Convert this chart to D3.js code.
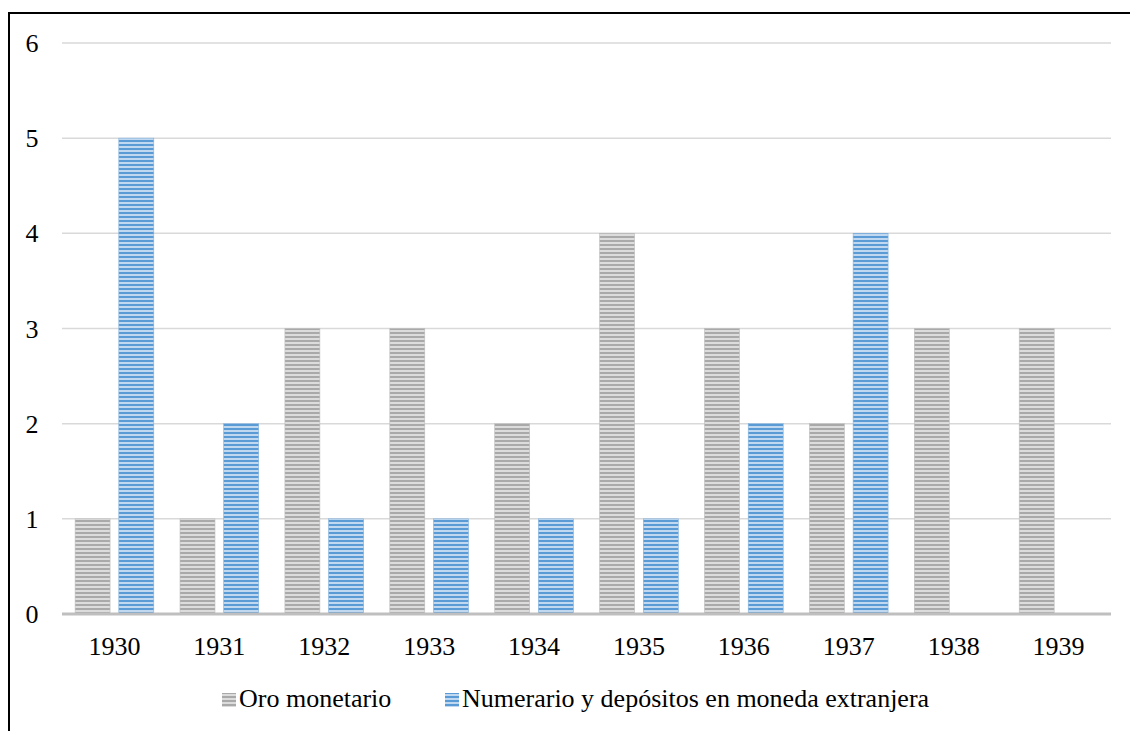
<!DOCTYPE html>
<html>
<head>
<meta charset="utf-8">
<script src="https://cdn.jsdelivr.net/npm/d3@7"></script>
</head>
<body style="margin:0; background:#fff">
<svg id="chart" width="1130" height="731" style="display:block"></svg>
<script>
// data
var years = ['1930','1931','1932','1933','1934','1935','1936','1937','1938','1939'];
var oro = [1, 1, 3, 3, 2, 4, 3, 2, 3, 3];
var numerario = [5, 2, 1, 1, 1, 1, 2, 4, 0, 0];
var yTicks = [0, 1, 2, 3, 4, 5, 6];
var seriesNames = ['Oro monetario', 'Numerario y depósitos en moneda extranjera'];

var FONT = 'Liberation Serif';
var svg = d3.select('#chart');
var margin = {left: 62, right: 19, top: 43, bottom: 117};
var W = 1130, H = 731;

// outer frame (only top/left fall inside the picture)
svg.append('rect')
    .attr('x', 9).attr('y', 13)
    .attr('width', 1140).attr('height', 740)
    .attr('fill', 'none').attr('stroke', '#000').attr('stroke-width', 2);

// striped patterns
var defs = svg.append('defs');
function stripes(id, dark, light){
    var p = defs.append('pattern')
        .attr('id', id)
        .attr('patternUnits', 'userSpaceOnUse')
        .attr('width', 8).attr('height', 4);
    p.append('rect').attr('width', 8).attr('height', 4).attr('fill', light);
    p.append('rect').attr('width', 8).attr('height', 2).attr('fill', dark);
}
stripes('grayStripe', '#a9a9a9', '#dcdcdc');
stripes('blueStripe', '#5b9bd5', '#c0d9f0');

var x = d3.scaleBand()
    .domain(years)
    .range([margin.left, W - margin.right])
    .paddingInner(0.25).paddingOuter(0.125);
var x1 = d3.scaleBand()
    .domain([0, 1])
    .range([0, x.bandwidth()])
    .paddingInner(0.2);
var y = d3.scaleLinear()
    .domain([0, 6])
    .range([H - margin.bottom, margin.top]);

// gridlines
svg.append('g')
    .selectAll('line')
    .data(yTicks.filter(function(d){ return d > 0; }))
    .enter().append('line')
    .attr('x1', margin.left).attr('x2', W - margin.right)
    .attr('y1', function(d){ return y(d); })
    .attr('y2', function(d){ return y(d); })
    .attr('stroke', '#d9d9d9').attr('stroke-width', 1.5);

// y labels
svg.append('g')
    .selectAll('text')
    .data(yTicks)
    .enter().append('text')
    .attr('x', 32)
    .attr('y', function(d){ return y(d); })
    .attr('dy', '0.35em')
    .attr('text-anchor', 'middle')
    .attr('font-family', FONT)
    .attr('font-size', 26)
    .text(function(d){ return d; });

// bars
var fills = ['url(#grayStripe)', 'url(#blueStripe)'];
var strokes = ['#bdbdbd', '#7fb0de'];
var groups = svg.append('g')
    .selectAll('g')
    .data(years)
    .enter().append('g')
    .attr('transform', function(d){ return 'translate(' + x(d) + ',0)'; });

groups.each(function(d, i){
    var self = d3.select(this);
    [oro[i], numerario[i]].forEach(function(v, s){
        if (v <= 0) return;
        self.append('rect')
            .attr('x', x1(s))
            .attr('y', y(v))
            .attr('width', x1.bandwidth())
            .attr('height', y(0) - y(v))
            .attr('fill', fills[s])
            .attr('stroke', strokes[s])
            .attr('stroke-width', 0.6);
    });
});

// x axis line
svg.append('line')
    .attr('x1', margin.left).attr('x2', W - margin.right)
    .attr('y1', y(0)).attr('y2', y(0))
    .attr('stroke', '#bfbfbf').attr('stroke-width', 3);

// x labels
svg.append('g')
    .selectAll('text')
    .data(years)
    .enter().append('text')
    .attr('x', function(d){ return x(d) + x.bandwidth() / 2; })
    .attr('y', 655)
    .attr('text-anchor', 'middle')
    .attr('font-family', FONT)
    .attr('font-size', 26)
    .text(function(d){ return d; });

// legend
var legendX = [222, 445];
var legend = svg.append('g');
seriesNames.forEach(function(name, s){
    legend.append('rect')
        .attr('x', legendX[s]).attr('y', 693)
        .attr('width', 14).attr('height', 14)
        .attr('fill', fills[s]);
    legend.append('text')
        .attr('x', legendX[s] + 17).attr('y', 707)
        .attr('font-family', FONT)
        .attr('font-size', 26)
        .text(name);
});
</script>
</body>
</html>
